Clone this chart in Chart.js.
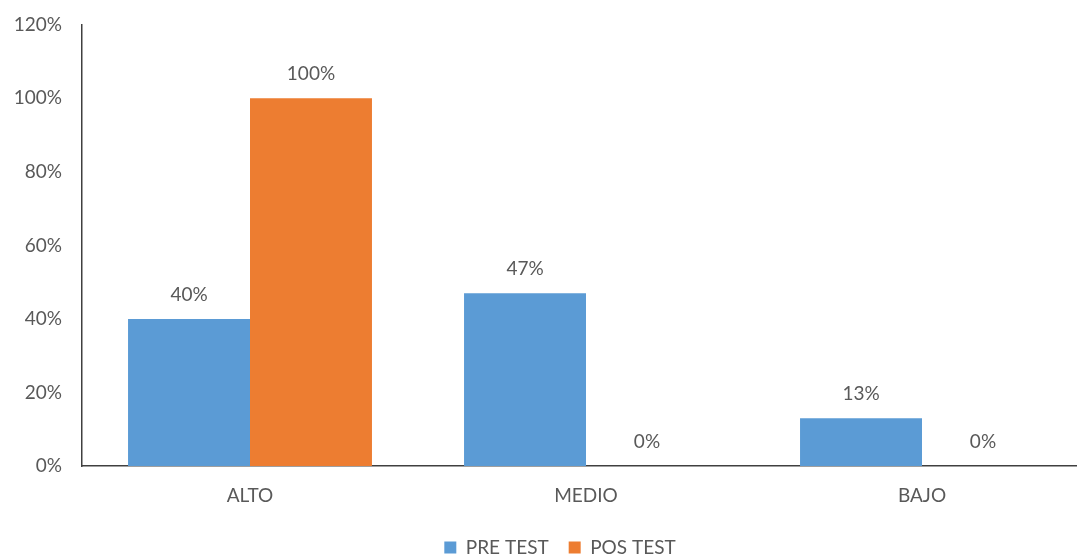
<!DOCTYPE html>
<html>
<head>
<meta charset="utf-8">
<script src="https://cdn.jsdelivr.net/npm/chart.js@4/dist/chart.umd.min.js"></script>
<style>
  html, body { margin: 0; padding: 0; background: #fff; overflow: hidden; }
  #wrap { width: 1120px; height: 567px; }
</style>
</head>
<body>
<div id="wrap"><canvas id="c"></canvas></div>
<script>
const categories = ['ALTO', 'MEDIO', 'BAJO'];
const preTest = [40, 47, 13];
const posTest = [100, 0, 0];
const seriesNames = ['PRE TEST', 'POS TEST'];

const textColor = '#595959';
const fontFamily = 'Lato, "Open Sans", sans-serif';
const fontSize = 19;

const valueLabels = {
  id: 'valueLabels',
  afterDatasetsDraw(chart) {
    const ctx = chart.ctx;
    ctx.save();
    ctx.font = fontSize + 'px ' + fontFamily;
    ctx.fillStyle = textColor;
    ctx.textAlign = 'center';
    ctx.textBaseline = 'middle';
    chart.data.datasets.forEach((ds, i) => {
      chart.getDatasetMeta(i).data.forEach((bar, j) => {
        ctx.fillText(ds.data[j] + '%', bar.x, bar.y - 24);
      });
    });
    ctx.restore();
  }
};

const legendShift = {
  id: 'legendShift',
  afterLayout(chart) {
    if (chart.legend) {
      chart.legend.left += 15;
      chart.legend.right += 15;
    }
  }
};

new Chart(document.getElementById('c'), {
  type: 'bar',
  data: {
    labels: categories,
    datasets: [
      { label: seriesNames[0], data: preTest, backgroundColor: '#5B9BD5' },
      { label: seriesNames[1], data: posTest, backgroundColor: '#ED7D31' }
    ]
  },
  options: {
    responsive: true,
    maintainAspectRatio: false,
    animation: false,
    layout: { padding: { top: 0, right: 30, left: 0, bottom: 0 } },
    datasets: { bar: { categoryPercentage: 0.726, barPercentage: 1.0 } },
    plugins: {
      legend: {
        position: 'bottom',
        labels: {
          color: textColor,
          font: { family: fontFamily, size: fontSize, lineHeight: 1 },
          boxWidth: 12,
          boxHeight: 12,
          padding: 20
        }
      },
      tooltip: { enabled: false }
    },
    scales: {
      x: {
        grid: { display: false, drawTicks: false },
        border: { display: true, color: '#404040', width: 1.5 },
        ticks: { color: textColor, font: { family: fontFamily, size: fontSize }, padding: 18 },
        afterFit(scale) { scale.height = 52; }
      },
      y: {
        min: 0,
        max: 120,
        grid: { display: false, drawTicks: false },
        border: { display: true, color: '#404040', width: 1.5 },
        ticks: {
          stepSize: 20,
          color: textColor,
          font: { family: fontFamily, size: fontSize, lineHeight: 0.5 },
          padding: 20,
          callback: v => v + '%'
        },
        afterFit(scale) { scale.width = 82; }
      }
    }
  },
  plugins: [valueLabels, legendShift]
});
</script>
</body>
</html>
